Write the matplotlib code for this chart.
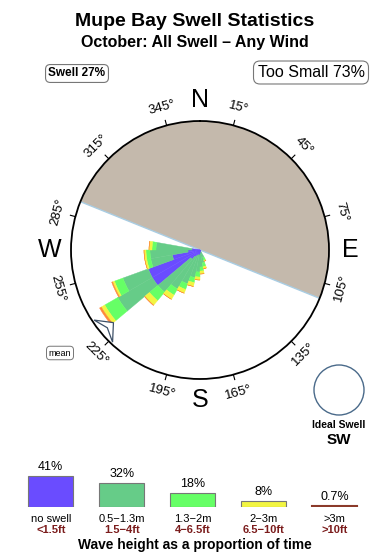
import numpy as np
import matplotlib
matplotlib.use("Agg")
import matplotlib.pyplot as plt
from matplotlib.patches import Circle

plt.rcParams['font.family'] = ['Liberation Sans', 'DejaVu Sans']

# ---------------- data ----------------
title = "Mupe Bay Swell Statistics"
subtitle = "October: All Swell \u2013 Any Wind"
swell_pct = 27
too_small_pct = 73

# rose: direction bins (deg, compass) and stacked segment lengths (rose units, circle = 129)
directions = [155, 165, 175, 185, 195, 205, 215, 225, 235, 245, 255, 265, 275]
seg_blue   = [2, 3, 4, 5, 5, 6, 8, 12, 55, 55, 28, 12, 8]
seg_teal   = [6, 10, 13, 17, 23, 30, 37, 43, 40, 27, 22, 38, 36]
seg_lime   = [3, 4, 4, 5, 5, 6, 7, 11, 15, 9, 4, 4, 4]
seg_yellow = [1, 2, 3, 3, 4, 4, 5, 6, 4, 2, 2, 2, 3]
seg_orange = [0, 0, 0, 0, 0, 0, 0, 0.5, 2, 1, 0, 0, 0]
rose_max = 129

shadow_start, shadow_end = 292, 112      # sheltered sector (through north)
mean_dir = 230
tick_angles = [15, 45, 75, 105, 135, 165, 195, 225, 255, 285, 315, 345]
cardinals = ['N', 'E', 'S', 'W']
cardinal_angles = [0, 90, 180, 270]
ideal_dir = "SW"

# legend
leg_pct = [41, 32, 18, 8, 0.7]
leg_pct_labels = ["41%", "32%", "18%", "8%", "0.7%"]
leg_metric = ["no swell", "0.5\u22121.3m", "1.3\u22122m", "2\u22123m", ">3m"]
leg_feet = ["<1.5ft", "1.5\u22124ft", "4\u22126.5ft", "6.5\u221210ft", ">10ft"]
leg_colors = ['#6a4cff', '#66cc88', '#66ff66', '#f2f542', '#8b3a2a']
orange = '#ff8a3a'
shade_color = '#c4b9ac'
red_text = '#7b1c1c'

# ---------------- figure ----------------
W, H = 390, 560
fig = plt.figure(figsize=(W / 100, H / 100), dpi=100)

def fx(x):
    return x / W

def fy(y):
    return 1 - y / H

fig.text(fx(195), fy(21), title, ha='center', va='center', fontsize=14, fontweight='bold')
fig.text(fx(195), fy(42), subtitle, ha='center', va='center', fontsize=11.5, fontweight='bold')

box = dict(boxstyle='round,pad=0.25,rounding_size=0.4', fc='white', ec='#777777', lw=0.8)
fig.text(fx(77), fy(73.5), f"Swell {swell_pct}%", ha='center', va='center', fontsize=8.5,
         fontweight='bold', bbox=box)
fig.text(fx(311), fy(72.5), f"Too Small {too_small_pct}%", ha='center', va='center',
         fontsize=11.5, bbox=box)

# ---------------- rose ----------------
cx, cy, R = 200, 250, 129
ax = fig.add_axes([fx(cx - R), fy(cy + R), 2 * R / W, 2 * R / H], projection='polar')
ax.set_theta_zero_location('N')
ax.set_theta_direction(-1)
ax.set_ylim(0, rose_max)
ax.set_xticks([])
ax.set_yticks([])
ax.grid(False)
ax.spines['polar'].set_linewidth(1.3)

# shaded half
span = (shadow_end + 360 - shadow_start) % 360
mid = np.deg2rad((shadow_start + span / 2) % 360)
ax.bar(mid, rose_max, width=np.deg2rad(span), bottom=0,
       color=shade_color, edgecolor='none', zorder=1)
ax.plot(np.deg2rad([shadow_start, shadow_start]), [rose_max, 0], color='#a9cde3', lw=1, zorder=2)
ax.plot(np.deg2rad([shadow_end, shadow_end]), [0, rose_max], color='#a9cde3', lw=1, zorder=2)

# petals
th = np.deg2rad(directions)
width = np.deg2rad(10)
bottom = np.zeros(len(directions))
for seg, col in [(seg_blue, leg_colors[0]), (seg_teal, leg_colors[1]),
                 (seg_lime, leg_colors[2]), (seg_yellow, leg_colors[3]),
                 (seg_orange, orange)]:
    seg = np.array(seg, dtype=float)
    ax.bar(th, seg, width=width, bottom=bottom, color=col, edgecolor=col, lw=0.3, zorder=3)
    bottom = bottom + seg

# ticks and labels
for b in tick_angles:
    t = np.deg2rad(b)
    ax.plot([t, t], [rose_max, rose_max * 1.04], color='k', lw=0.8, clip_on=False)
    rot = ((-b + 90) % 180) - 90
    ax.text(t, rose_max * 1.14, f"{b}\u00b0", rotation=rot, rotation_mode='anchor',
            ha='center', va='center', fontsize=9.5, clip_on=False)
for lab, a in zip(cardinals, cardinal_angles):
    ax.text(np.deg2rad(a), rose_max * 1.165, lab, ha='center', va='center', fontsize=18,
            clip_on=False)

# mean direction marker
ax.fill(np.deg2rad([mean_dir, mean_dir + 6.5, mean_dir, mean_dir - 6.5]),
        [113, 127, 121, 127], facecolor='white', edgecolor='#3d5068', lw=0.9, zorder=5)
fig.text(fx(60), fy(353), "mean", ha='center', va='center', fontsize=6.5,
         bbox=dict(boxstyle='round,pad=0.25,rounding_size=0.4', fc='white', ec='#777777', lw=0.7))

# ideal swell
ax2 = fig.add_axes([fx(339 - 30), fy(390 + 30), 60 / W, 60 / H])
ax2.set_xlim(-30, 30)
ax2.set_ylim(-30, 30)
ax2.set_aspect('equal')
ax2.axis('off')
ax2.add_patch(Circle((0, 0), 25, fill=False, ec='#4a6a8a', lw=1))
fig.text(fx(339), fy(425), "Ideal Swell", ha='center', va='center', fontsize=7.5, fontweight='bold')
fig.text(fx(339), fy(440), ideal_dir, ha='center', va='center', fontsize=11, fontweight='bold')

# ---------------- legend bars ----------------
px_per_pct = 0.76
lax = fig.add_axes([fx(15.3), fy(507), 355 / W, 50 * px_per_pct / H])
lax.set_xlim(-0.5, 4.5)
lax.set_ylim(0, 50)
lax.axis('off')
xs = np.arange(len(leg_pct))
lax.bar(xs, leg_pct, width=0.634, color=leg_colors, edgecolor='#777777', lw=0.8)
lax.plot([4 - 0.317, 4 + 0.317], [leg_pct[4], leg_pct[4]], color=leg_colors[4], lw=1.5)
for i in xs:
    lax.annotate(leg_pct_labels[i], (i, leg_pct[i]), xytext=(0, 6.5), textcoords='offset points',
                 ha='center', va='center', fontsize=9, annotation_clip=False)
    lax.annotate(leg_metric[i], (i, 0), xytext=(0, -8.5), textcoords='offset points',
                 ha='center', va='center', fontsize=8, annotation_clip=False)
    lax.annotate(leg_feet[i], (i, 0), xytext=(0, -16.5), textcoords='offset points',
                 ha='center', va='center', fontsize=8, fontweight='bold', color=red_text,
                 annotation_clip=False)
fig.text(fx(195), fy(545), "Wave height as a proportion of time", ha='center', va='center',
         fontsize=9.9, fontweight='bold')

fig.savefig("out.png", dpi=100)
